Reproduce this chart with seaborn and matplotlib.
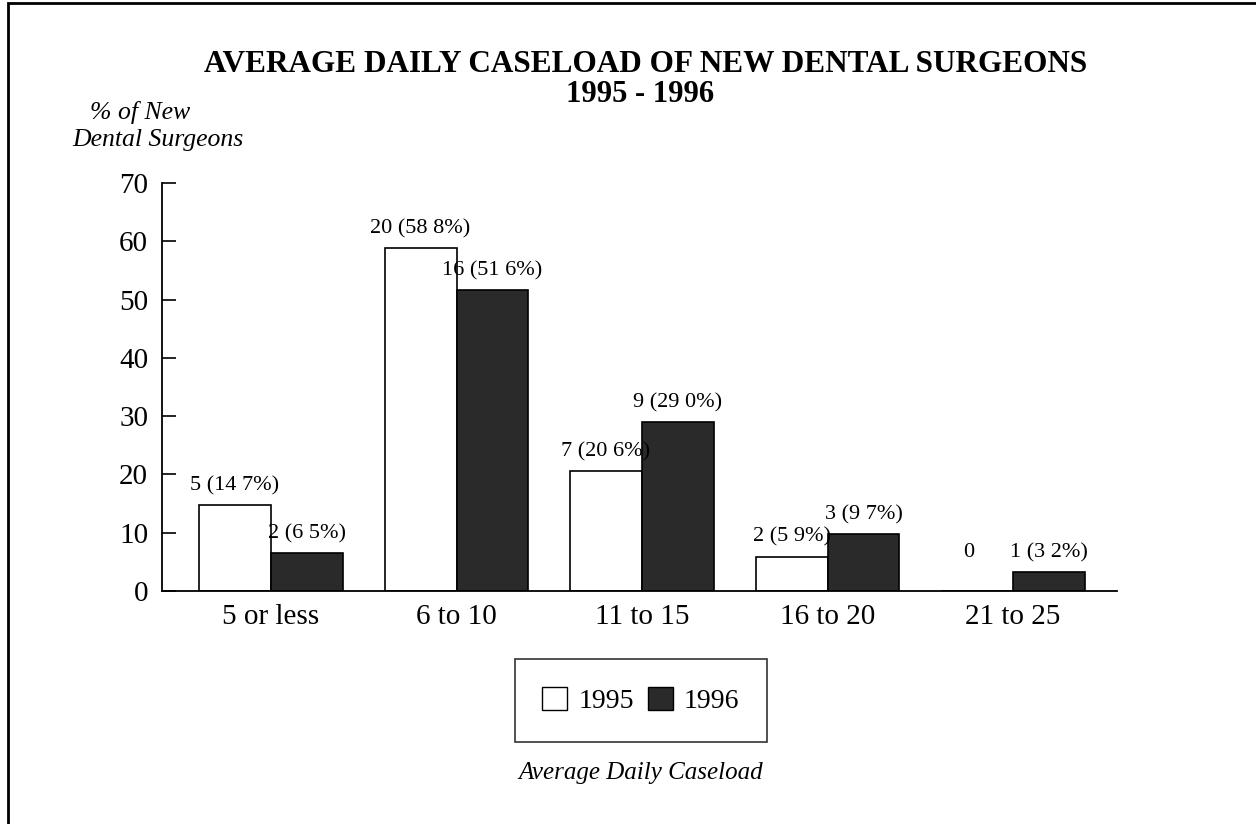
import pandas as pd
import matplotlib.pyplot as plt
import seaborn as sns
from matplotlib.patches import Rectangle, Patch

# Datos
categorias = ['5 or less', '6 to 10', '11 to 15', '16 to 20', '21 to 25']
pct_1995 = [14.7, 58.8, 20.6, 5.9, 0.0]
pct_1996 = [6.5, 51.6, 29.0, 9.7, 3.2]
etiquetas_1995 = ['5 (14 7%)', '20 (58 8%)', '7 (20 6%)', '2 (5 9%)', '0']
etiquetas_1996 = ['2 (6 5%)', '16 (51 6%)', '9 (29 0%)', '3 (9 7%)', '1 (3 2%)']
anios = ['1995', '1996']

df = pd.DataFrame({
    'Caseload': categorias * 2,
    'Year': [anios[0]] * len(categorias) + [anios[1]] * len(categorias),
    'Pct': pct_1995 + pct_1996,
})

sns.set_style('white')
plt.rcParams['font.family'] = ['Liberation Serif', 'DejaVu Serif']
plt.rcParams['text.color'] = 'black'
plt.rcParams['xtick.color'] = 'black'
plt.rcParams['ytick.color'] = 'black'

colores = {'1995': 'white', '1996': '#2a2a2a'}

fig = plt.figure(figsize=(12.56, 8.24), dpi=100)
ax = fig.add_axes([162 / 1256, 1 - 591 / 824, (1117 - 162) / 1256, (591 - 183) / 824])

sns.barplot(data=df, x='Caseload', y='Pct', hue='Year', hue_order=anios, order=categorias,
            palette=colores, edgecolor='black', linewidth=1.2, width=0.776, ax=ax, legend=False)

# Etiquetas de las barras
for cont, etiquetas in zip(ax.containers, [etiquetas_1995, etiquetas_1996]):
    for barra, txt in zip(cont, etiquetas):
        alto = barra.get_height()
        desplaz = (-6, 21) if alto == 0 else (0, 7)
        ax.annotate(txt, (barra.get_x() + barra.get_width() / 2, alto),
                    xytext=desplaz, textcoords='offset points',
                    ha='center', va='bottom', fontsize=16)

ax.set_ylim(0, 70)
ax.set_xlim(-(271 - 162) / 185.5, (1117 - 271) / 185.5)
ax.set_yticks(range(0, 71, 10))
ax.set_xlabel('')
ax.set_ylabel('')
ax.tick_params(axis='y', which='major', left=True, direction='in', length=10, width=1.2,
               labelsize=21, pad=10)
ax.tick_params(axis='x', bottom=False, labelsize=21, pad=6)
for lado in ['top', 'right']:
    ax.spines[lado].set_visible(False)
for lado in ['left', 'bottom']:
    ax.spines[lado].set_linewidth(1.3)
    ax.spines[lado].set_color('black')

# Titulos
fig.text(0.514, 1 - 65 / 824, 'AVERAGE DAILY CASELOAD OF NEW DENTAL SURGEONS',
         ha='center', va='center', fontsize=22.5, fontweight='bold')
fig.text(0.51, 1 - 94 / 824, '1995 - 1996', ha='center', va='center', fontsize=22, fontweight='bold')
fig.text(90 / 1256, 1 - 113 / 824, '% of New', ha='left', va='center', fontsize=18.5, style='italic')
fig.text(72 / 1256, 1 - 140 / 824, 'Dental Surgeons', ha='left', va='center', fontsize=18.5, style='italic')
fig.text(641 / 1256, 1 - 773 / 824, 'Average Daily Caseload', ha='center', va='center',
         fontsize=18, style='italic')

# Leyenda
manejadores = [Patch(facecolor=colores[a], edgecolor='black', label=a) for a in anios]
leg = fig.legend(handles=manejadores, loc='upper center', bbox_to_anchor=(641 / 1256, 1 - 659 / 824),
                 ncol=2, fontsize=20, frameon=True, fancybox=False, edgecolor='black',
                 handlelength=0.9, handleheight=0.9, handletextpad=0.4, columnspacing=0.5,
                 borderpad=1.0, borderaxespad=0)
leg.get_frame().set_linewidth(1.2)

# Marco exterior
fig.patches.append(Rectangle((8 / 1256, -0.1), 1.2, 1.1 - 3 / 824, transform=fig.transFigure,
                             fill=False, edgecolor='black', linewidth=2))

plt.savefig('out.png', dpi=100)
plt.close()
